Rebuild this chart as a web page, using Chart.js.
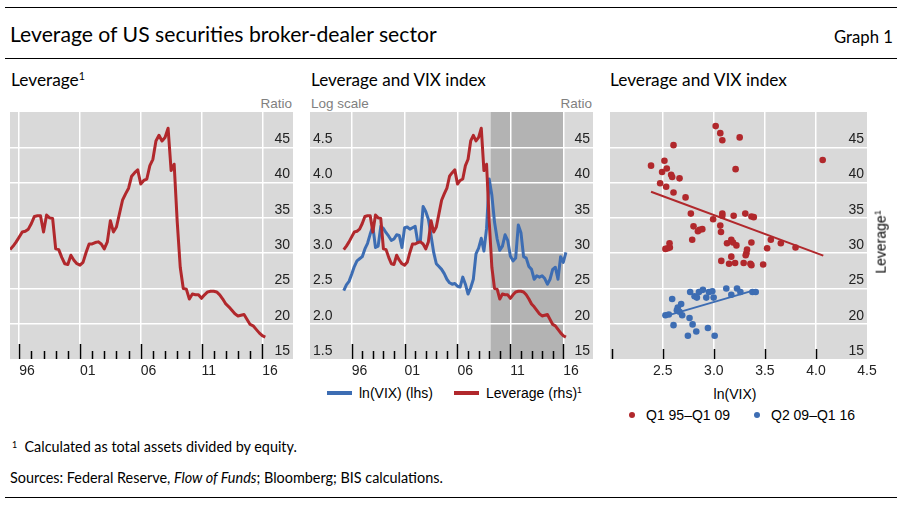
<!DOCTYPE html>
<html><head><meta charset="utf-8">
<script src="https://cdn.jsdelivr.net/npm/chart.js@4.4.1/dist/chart.umd.min.js"></script>
<style>
html,body{margin:0;padding:0;background:#fff;}
body{width:902px;height:508px;position:relative;overflow:hidden;}
.t{position:absolute;white-space:nowrap;line-height:1;color:#000;left:0;top:0;}
.cal{font-family:Lato,'Open Sans',sans-serif;}
.ari{font-family:'Liberation Sans',Arial,sans-serif;}
.gray{color:#808080;}
.rule{position:absolute;left:5px;width:892px;height:1px;background:#000;}
canvas{position:absolute;}
.sup{font-size:0.62em;position:relative;top:-0.6em;}
.sw{position:absolute;height:4px;width:25px;}
.dot{position:absolute;width:6px;height:6px;border-radius:50%;}
</style></head><body>
<div class="rule" style="top:7px"></div>
<div class="rule" style="top:58px"></div>
<div class="rule" style="top:497px"></div>

<div class="t cal" data-x="10" data-b="42" data-w="427" data-fs="21">Leverage of US securities broker-dealer sector</div>
<div class="t cal" data-xr="893" data-b="43" data-w="59" data-fs="16">Graph 1</div>

<div class="t cal" data-x="11" data-b="86" data-w="74" data-fs="16">Leverage<span class="sup">1</span></div>
<div class="t cal" data-x="311" data-b="86" data-w="175" data-fs="16">Leverage and VIX index</div>
<div class="t cal" data-x="610" data-b="86" data-w="177" data-fs="16">Leverage and VIX index</div>

<div class="t ari gray" data-xr="292" data-b="108" data-fs="13.5">Ratio</div>
<div class="t ari gray" data-x="311" data-b="108" data-fs="13.5">Log scale</div>
<div class="t ari gray" data-xr="592" data-b="108" data-fs="13.5">Ratio</div>

<canvas id="c1" width="283" height="273" style="left:10px;top:112px;width:283px;height:273px"></canvas>
<canvas id="c2" width="283" height="273" style="left:310px;top:112px;width:283px;height:273px"></canvas>
<canvas id="c3" width="285" height="273" style="left:610px;top:112px;width:285px;height:273px"></canvas>

<div class="t ari" id="levTitle" data-fs="14" style="transform-origin:center center">Leverage<span class="sup">1</span></div>

<div class="sw" style="left:327px;top:391px;background:#3d6db3"></div>
<div class="t ari" data-x="359" data-b="398" data-fs="14">ln(VIX) (lhs)</div>
<div class="sw" style="left:454px;top:391px;background:#b1282c"></div>
<div class="t ari" data-x="486" data-b="398" data-fs="14">Leverage (rhs)<span class="sup">1</span></div>

<div class="t ari" data-xc="735" data-b="399" data-fs="14">ln(VIX)</div>
<div class="dot" style="left:629px;top:412px;background:#b1282c"></div>
<div class="t ari" data-x="646" data-b="420" data-fs="14">Q1 95–Q1 09</div>
<div class="dot" style="left:754px;top:412px;background:#3d6db3"></div>
<div class="t ari" data-x="771" data-b="420" data-fs="14">Q2 09–Q1 16</div>

<div class="t cal" data-x="12" data-b="452" data-w="285" data-fs="13"><span class="sup" style="top:-0.45em">1</span>&nbsp; Calculated as total assets divided by equity.</div>
<div class="t cal" data-x="10" data-b="483" data-w="433" data-fs="13">Sources: Federal Reserve, <i>Flow of Funds</i>; Bloomberg; BIS calculations.</div>

<script>
// ---------------- DATA ----------------
// Quarterly observations, Q1 1995 – Q1 2016
const quarterLabels = [];
for (let y = 1995; y <= 2016; y++) for (let q = 1; q <= 4; q++) {
  if (y === 2016 && q > 1) break;
  quarterLabels.push('Q' + q + ' ' + String(y).slice(2));
}
const quarterTimes = quarterLabels.map(l => 2000 + (+l.slice(3) > 50 ? -100 : 0) + (+l.slice(3)) + (+l[1]) / 4);

// Leverage of broker-dealers (ratio)
const leverage = [
  30.5, 31.0, 31.6, 32.3,   // 1995
  33.0, 33.1, 33.4, 34.2,   // 1996
  35.2, 35.3, 35.3, 33.0,   // 1997
  35.4, 35.0, 34.9, 30.6,   // 1998
  30.5, 29.4, 28.5, 28.4,   // 1999
  29.7, 29.0, 28.5, 28.3,   // 2000
  28.7, 30.1, 31.3, 31.3,   // 2001
  31.5, 31.6, 31.3, 30.6,   // 2002
  31.6, 34.6, 33.0, 33.7,   // 2003
  35.6, 37.5, 38.4, 39.2,   // 2004
  40.9, 41.4, 41.8, 39.8,   // 2005
  40.3, 40.5, 42.4, 43.3,   // 2006
  45.9, 46.7, 45.9, 46.4,   // 2007
  47.7, 41.7, 42.6, 34.5,   // 2008
  28.0, 25.0, 24.9, 23.5,   // 2009
  24.2, 24.1, 24.1, 23.6,   // 2010
  24.1, 24.5, 24.6, 24.6,   // 2011
  24.5, 24.1, 23.5, 22.8,   // 2012
  22.4, 21.9, 21.4, 21.1,   // 2013
  21.2, 21.3, 20.6, 19.9,   // 2014
  19.7, 19.2, 18.7, 18.3,   // 2015
  18.1                      // 2016
];

// ln(VIX)
const lnVix = [
  2.47, 2.55, 2.60, 2.70,
  2.81, 2.89, 2.92, 2.95,
  3.06, 3.14, 3.27, 3.38,
  3.08, 3.10, 3.38, 3.35,
  3.29, 3.24, 3.18, 3.20,
  3.26, 3.25, 3.08, 3.36,
  3.37, 3.34, 3.36, 3.38,
  3.15, 3.18, 3.66, 3.59,
  3.48, 3.25, 3.01, 2.85,
  2.81, 2.77, 2.71, 2.63,
  2.58, 2.56, 2.57, 2.53,
  2.52, 2.66, 2.56, 2.42,
  2.51, 2.63, 2.99, 3.07,
  3.21, 3.03, 3.35, 4.05,
  3.82, 3.44, 3.20, 3.04,
  3.10, 3.26, 3.18, 2.96,
  2.89, 2.93, 3.40, 3.29,
  2.95, 2.93, 2.81, 2.77,
  2.63, 2.68, 2.66, 2.68,
  2.64, 2.56, 2.63, 2.77,
  2.80, 2.63, 2.95, 2.87,
  3.01
];

// Scatter: Q1 95–Q1 09
const scatterEarlyVix = [2.385, 2.516, 2.605, 2.493, 2.539, 2.582, 2.592, 2.664, 2.474, 2.533, 2.605, 2.723, 2.775, 2.801, 2.844, 2.860, 2.887, 2.788, 2.566, 2.549, 2.526, 2.569, 3.018, 3.063, 3.083, 3.253, 3.213, 4.066, 2.993, 3.083, 3.083, 3.194, 3.308, 3.368, 3.391, 3.063, 3.070, 3.129, 3.171, 3.188, 3.221, 3.368, 3.325, 3.319, 3.312, 3.171, 3.073, 3.149, 3.208, 3.292, 3.358, 3.368, 3.483, 3.522, 3.558, 3.656, 3.800];
const scatterEarlyLev = [42.4, 43.1, 45.3, 41.5, 42.0, 41.1, 40.8, 40.6, 39.9, 39.4, 38.6, 37.9, 35.6, 33.8, 33.1, 33.3, 33.4, 31.9, 31.4, 30.7, 30.6, 30.8, 48.0, 47.0, 46.0, 46.4, 41.9, 43.2, 34.8, 35.6, 35.3, 35.3, 35.6, 35.2, 35.1, 33.9, 33.0, 31.4, 31.9, 31.5, 31.1, 31.5, 30.5, 30.0, 29.7, 29.5, 28.9, 28.5, 28.6, 28.6, 28.5, 28.3, 28.4, 30.7, 31.9, 31.4, 30.8];
// Scatter: Q2 09–Q1 16
const scatterLateVix = [2.592, 2.680, 2.647, 2.638, 2.664, 2.690, 2.526, 2.559, 2.605, 2.762, 2.792, 2.828, 2.746, 2.942, 3.008, 2.768, 2.811, 2.854, 2.893, 2.834, 2.926, 2.952, 2.985, 2.998, 3.122, 3.171, 3.227, 3.260, 3.378, 3.410];
const scatterLateLev = [23.5, 22.8, 22.3, 21.9, 21.7, 21.2, 21.2, 21.3, 19.8, 20.8, 19.9, 18.9, 18.3, 19.4, 18.3, 24.5, 23.9, 24.5, 24.8, 23.7, 23.7, 24.5, 24.6, 23.7, 25.0, 24.1, 25.0, 24.5, 24.5, 24.5];
// Fitted lines (end points)
const fitEarlyVix = [2.385, 4.072];
const fitEarlyLev = [38.7, 29.65];
const fitLateVix = [2.526, 3.40];
const fitLateLev = [21.08, 24.76];

// Ticks
const yearTicks = [1996, 2001, 2006, 2011, 2016];
const yearTickLabels = ['96', '01', '06', '11', '16'];
const leverageTicks = [15, 20, 25, 30, 35, 40, 45];
const vixTicks = [1.5, 2.0, 2.5, 3.0, 3.5, 4.0, 4.5];
const scatterXTicks = [2.5, 3.0, 3.5, 4.0, 4.5];
const scatterXMarks = [2.0, 2.5, 3.0, 3.5, 4.0];
const crisisShade = [2009.15, 2016.05];

// ---------------- STYLE ----------------
const RED = '#b1282c', BLUE = '#3d6db3', BG = '#d9d9d9', SHADE = '#b3b3b3', TXT = '#222';
Chart.defaults.font.family = "'Liberation Sans', Arial, sans-serif";
Chart.defaults.font.size = 14;
Chart.defaults.color = TXT;

const minorYears = [];
for (let y = 1996; y <= 2016; y++) if (!yearTicks.includes(y)) minorYears.push(y);

const bgPlugin = {
  id: 'bg',
  beforeDraw(chart, args, opts) {
    const {ctx, chartArea: a} = chart;
    ctx.save();
    ctx.fillStyle = BG;
    ctx.fillRect(a.left, a.top, a.width, a.height);
    if (opts.shade) {
      const x0 = chart.scales.x.getPixelForValue(opts.shade[0]);
      const x1 = chart.scales.x.getPixelForValue(opts.shade[1]);
      ctx.fillStyle = SHADE;
      ctx.fillRect(x0, a.top, x1 - x0, a.height);
    }
    ctx.restore();
  }
};
const tickPlugin = {
  id: 'tickmarks',
  afterDraw(chart, args, opts) {
    const {ctx, chartArea: a} = chart;
    const xs = chart.scales.x;
    ctx.save();
    ctx.strokeStyle = '#000';
    ctx.lineWidth = 1.5;
    const draw = (vals, len) => vals.forEach(v => {
      const px = Math.round(xs.getPixelForValue(v)) + 0.5;
      ctx.beginPath(); ctx.moveTo(px, a.bottom); ctx.lineTo(px, a.bottom - len); ctx.stroke();
    });
    draw(opts.major || [], opts.majorLen || 15);
    draw(opts.minor || [], opts.minorLen || 8);
    ctx.restore();
  }
};

const fixX = (h) => (s) => { s.height = h; s.paddingLeft = 0; s.paddingRight = 0; };
const fixY = (s) => { s.width = 0; s.paddingTop = 0; s.paddingBottom = 0; };
const hideAt = (v0) => (c) => (c.tick && c.tick.value === v0) ? 'rgba(0,0,0,0)' : '#fff';

function yearAxis(min, max) {
  return {
    type: 'linear', position: 'bottom', min, max,
    afterBuildTicks: s => { s.ticks = yearTicks.map(v => ({value: v})); },
    afterFit: fixX(26),
    border: {display: false},
    grid: {color: '#fff', lineWidth: 1.5, drawTicks: false},
    ticks: {align: 'start', padding: 4, maxRotation: 0, autoSkip: false,
      callback: v => { const i = yearTicks.indexOf(v); return i >= 0 ? yearTickLabels[i] : ''; }}
  };
}
function levAxis(showGrid) {
  return {
    type: 'linear', position: 'right', min: 15, max: 50,
    afterBuildTicks: s => { s.ticks = leverageTicks.map(v => ({value: v})); },
    afterFit: fixY,
    border: {display: false},
    grid: {display: showGrid, color: hideAt(15), lineWidth: 1.5, drawTicks: false},
    ticks: {mirror: true, padding: -3, labelOffset: -8, callback: v => String(v)}
  };
}

const lineData = (vals) => vals.map((v, i) => ({x: quarterTimes[i], y: v}));
const common = {
  responsive: false, animation: false, devicePixelRatio: 1,
  layout: {padding: 0, autoPadding: false},
  events: [],
};

// Panel 1
new Chart(document.getElementById('c1'), {
  type: 'line',
  data: {datasets: [{data: lineData(leverage), borderColor: RED, borderWidth: 3, pointRadius: 0, tension: 0, borderJoinStyle: 'round'}]},
  options: Object.assign({}, common, {
    scales: {x: yearAxis(1995.24, 2018.53), y: levAxis(true)},
    plugins: {legend: {display: false}, tooltip: {enabled: false},
      bg: {}, tickmarks: {major: yearTicks, minor: minorYears}}
  }),
  plugins: [bgPlugin, tickPlugin]
});

// Panel 2
new Chart(document.getElementById('c2'), {
  type: 'line',
  data: {datasets: [
    {data: lineData(leverage), yAxisID: 'y', borderColor: RED, borderWidth: 3, pointRadius: 0, tension: 0, borderJoinStyle: 'round'},
    {data: lineData(lnVix), yAxisID: 'yL', borderColor: BLUE, borderWidth: 3, pointRadius: 0, tension: 0, borderJoinStyle: 'round'}
  ]},
  options: Object.assign({}, common, {
    scales: {
      x: yearAxis(1992.06, 2018.81),
      y: levAxis(true),
      yL: {type: 'linear', position: 'left', min: 1.5, max: 5.0,
        afterBuildTicks: s => { s.ticks = vixTicks.map(v => ({value: v})); },
        afterFit: fixY,
        border: {display: false},
        grid: {display: false, drawTicks: false},
        ticks: {mirror: true, padding: 3, labelOffset: -8, callback: v => v.toFixed(1)}}
    },
    plugins: {legend: {display: false}, tooltip: {enabled: false},
      bg: {shade: crisisShade}, tickmarks: {major: yearTicks, minor: minorYears}}
  }),
  plugins: [bgPlugin, tickPlugin]
});

// Panel 3
const pts = (xs, ys) => xs.map((x, i) => ({x, y: ys[i]}));
new Chart(document.getElementById('c3'), {
  type: 'scatter',
  data: {datasets: [
    {data: pts(scatterEarlyVix, scatterEarlyLev), backgroundColor: RED, borderWidth: 0, pointRadius: 3.3},
    {data: pts(scatterLateVix, scatterLateLev), backgroundColor: BLUE, borderWidth: 0, pointRadius: 3.3},
    {type: 'line', data: pts(fitEarlyVix, fitEarlyLev), borderColor: RED, borderWidth: 2, pointRadius: 0},
    {type: 'line', data: pts(fitLateVix, fitLateLev), borderColor: BLUE, borderWidth: 2, pointRadius: 0}
  ]},
  options: Object.assign({}, common, {
    scales: {
      x: {type: 'linear', position: 'bottom', min: 1.983, max: 4.5,
        afterBuildTicks: s => { s.ticks = scatterXTicks.map(v => ({value: v})); },
        afterFit: fixX(26),
        border: {display: false},
        grid: {color: hideAt(4.5), lineWidth: 1.5, drawTicks: false},
        ticks: {padding: 4, maxRotation: 0, autoSkip: false, callback: v => v.toFixed(1)}},
      y: Object.assign(levAxis(true), {afterFit: (s) => { s.width = 28; s.paddingTop = 0; s.paddingBottom = 0; }})
    },
    plugins: {legend: {display: false}, tooltip: {enabled: false},
      bg: {}, tickmarks: {major: scatterXMarks, minor: [], majorLen: 10}}
  }),
  plugins: [bgPlugin, tickPlugin]
});

// ---------------- TEXT PLACEMENT ----------------
document.querySelectorAll('.t[data-b]').forEach(el => {
  let fs = parseFloat(el.dataset.fs);
  el.style.fontSize = fs + 'px';
  if (el.dataset.w) {
    const w0 = el.getBoundingClientRect().width;
    fs = fs * parseFloat(el.dataset.w) / w0;
    el.style.fontSize = fs + 'px';
  }
  const mk = document.createElement('span');
  mk.style.cssText = 'display:inline-block;width:0;height:0;vertical-align:baseline;';
  el.appendChild(mk);
  const r = el.getBoundingClientRect();
  const b = mk.getBoundingClientRect().top - r.top;
  el.style.top = (parseFloat(el.dataset.b) - b) + 'px';
  const w = r.width;
  let left;
  if (el.dataset.x) left = parseFloat(el.dataset.x);
  else if (el.dataset.xr) left = parseFloat(el.dataset.xr) - w;
  else left = parseFloat(el.dataset.xc) - w / 2;
  el.style.left = left + 'px';
});
(function () {
  const el = document.getElementById('levTitle');
  el.style.fontSize = '14px';
  const r = el.getBoundingClientRect();
  el.style.left = (881 - r.width / 2) + 'px';
  el.style.top = (242 - r.height / 2) + 'px';
  el.style.transform = 'rotate(-90deg)';
})();
</script>
</body></html>
